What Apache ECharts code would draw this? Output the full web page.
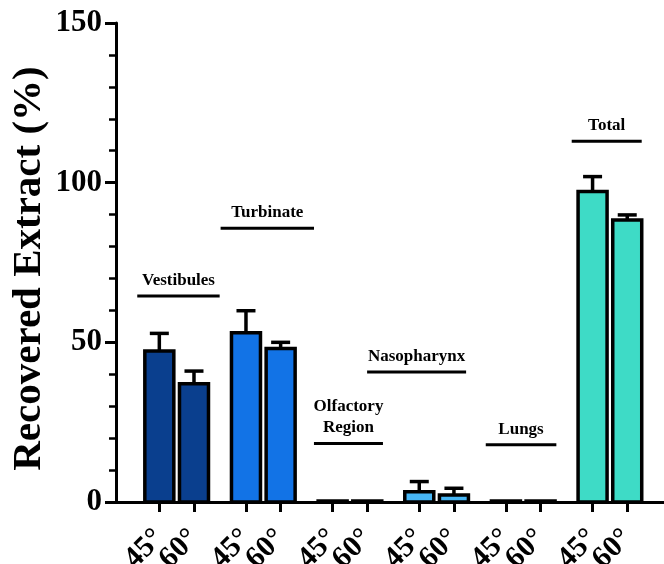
<!DOCTYPE html>
<html>
<head>
<meta charset="utf-8">
<style>
html,body{margin:0;padding:0;background:#fff;}
#chart{width:664px;height:564px;}
</style>
<script src="https://cdn.jsdelivr.net/npm/echarts@6/dist/echarts.min.js"></script>
</head>
<body>
<div id="chart"></div>
<script>
// ---- data ----
const groups = ['Vestibules', 'Turbinate', 'Olfactory\nRegion', 'Nasopharynx', 'Lungs', 'Total'];
const angles = ['45°', '60°'];
const mean45 = [47.3, 53.0, 0.3, 3.2, 0.3, 97.2];
const err45  = [5.5, 6.9, 0, 3.2, 0, 4.7];
const mean60 = [37.0, 48.1, 0.3, 2.2, 0.3, 88.3];
const err60  = [4.0, 1.9, 0, 2.1, 0, 1.6];
const bracketLevel = [64.5, 85.7, 18.3, 40.7, 17.9, 113.0];
const yTicks = [0, 50, 100, 150];

// ---- styling / layout ----
const groupColors = ['#0a3f8e', '#1273e6', '#2a8ff0', '#47b6f5', '#3fc9e6', '#3edbc6'];
const bracketDx = [1.8, 4, -1.5, -20, -2.2, -3.2];
const bracketHalf = [41.2, 46.7, 34.5, 49.5, 35.3, 35];
const FONT = '"Liberation Serif", "Times New Roman", serif';
const BAR_W = 29, BAR_BORDER = 3.5;

// slot layout: 2 leading slots, each group uses 5 slots [45, -, 60, -, -]
const LEAD = 2, PER = 5, NSLOT = 32;
const cats = new Array(NSLOT).fill('');
const barData = [];
const errData = [];
const bracketData = [];
groups.forEach((g, i) => {
  const s45 = LEAD + PER * i, s60 = s45 + 2;
  cats[s45] = angles[0];
  cats[s60] = angles[1];
  barData.push([s45, mean45[i], i]);
  barData.push([s60, mean60[i], i]);
  if (err45[i] > 0) errData.push([s45, mean45[i], err45[i]]);
  if (err60[i] > 0) errData.push([s60, mean60[i], err60[i]]);
  bracketData.push([s45 + 1, bracketLevel[i]]);
});
const isBarSlot = (idx) => cats[idx] !== '';
// blank placeholder labels at both ends so the real end labels are never auto-hidden
const showLabelSlot = (idx) => idx === 0 || idx === NSLOT - 1 || isBarSlot(idx);

const chart = echarts.init(document.getElementById('chart'), null, { renderer: 'canvas' });
chart.setOption({
  animation: false,
  backgroundColor: '#fff',
  grid: { left: 116, top: 23, width: NSLOT * 17.33, height: 479, containLabel: false, outerBoundsMode: 'none' },
  xAxis: {
    type: 'category',
    data: cats,
    boundaryGap: true,
    axisLine: { lineStyle: { color: '#000', width: 3 } },
    axisTick: { show: true, alignWithLabel: true, interval: (idx) => isBarSlot(idx), length: 10, lineStyle: { color: '#000', width: 3 } },
    axisLabel: {
      interval: (idx) => showLabelSlot(idx),
      formatter: (v) => (v === '' ? ' ' : v),
      hideOverlap: false, rotate: 45, margin: 32, lineHeight: 18,
      color: '#000', fontFamily: FONT, fontWeight: 'bold', fontSize: 30
    },
    splitLine: { show: false }
  },
  yAxis: {
    type: 'value',
    min: yTicks[0], max: yTicks[yTicks.length - 1], interval: 50,
    name: 'Recovered Extract (%)',
    nameLocation: 'middle',
    nameGap: 66,
    nameMoveOverlap: false,
    nameTextStyle: { color: '#000', fontFamily: FONT, fontWeight: 'bold', fontSize: 41, padding: [0, 12, 0, 0] },
    axisLine: { show: true, lineStyle: { color: '#000', width: 3 } },
    axisTick: { show: true, length: 11, lineStyle: { color: '#000', width: 3 } },
    minorTick: { show: true, splitNumber: 5, length: 7, lineStyle: { color: '#000', width: 2.5 } },
    axisLabel: { margin: 14, color: '#000', fontFamily: FONT, fontWeight: 'bold', fontSize: 31 },
    splitLine: { show: false },
    minorSplitLine: { show: false }
  },
  series: [
    {
      type: 'custom',
      name: 'bars',
      data: barData,
      encode: { x: 0, y: 1 },
      z: 2,
      renderItem: (params, api) => {
        const x = api.value(0), v = api.value(1), g = api.value(2);
        const top = api.coord([x, v]);
        const base = api.coord([x, 0]);
        return {
          type: 'rect',
          shape: { x: top[0] - BAR_W / 2, y: top[1], width: BAR_W, height: base[1] - top[1] },
          style: { fill: groupColors[g], stroke: '#000', lineWidth: BAR_BORDER }
        };
      }
    },
    {
      type: 'custom',
      name: 'error',
      data: errData,
      encode: { x: 0, y: 1 },
      z: 1,
      renderItem: (params, api) => {
        const x = api.value(0), m = api.value(1), e = api.value(2);
        const b = api.coord([x, m]);
        const t = api.coord([x, m + e]);
        return {
          type: 'group',
          children: [
            { type: 'line', shape: { x1: b[0], y1: b[1], x2: t[0], y2: t[1] }, style: { stroke: '#000', lineWidth: 3.5 } },
            { type: 'line', shape: { x1: t[0] - 9.5, y1: t[1], x2: t[0] + 9.5, y2: t[1] }, style: { stroke: '#000', lineWidth: 3.5 } }
          ]
        };
      }
    },
    {
      type: 'custom',
      name: 'groups',
      data: bracketData,
      encode: { x: 0, y: 1 },
      z: 3,
      renderItem: (params, api) => {
        const i = params.dataIndex;
        const p = api.coord([api.value(0), api.value(1)]);
        const cx = p[0] + bracketDx[i], hw = bracketHalf[i];
        return {
          type: 'group',
          children: [
            { type: 'line', shape: { x1: cx - hw, y1: p[1], x2: cx + hw, y2: p[1] }, style: { stroke: '#000', lineWidth: 3 } },
            { type: 'text', style: { text: groups[i], x: cx, y: p[1] - 5, align: 'center', verticalAlign: 'bottom', fill: '#000', font: 'bold 17px ' + FONT, lineHeight: 21 } }
          ]
        };
      }
    }
  ]
});
</script>
</body>
</html>
